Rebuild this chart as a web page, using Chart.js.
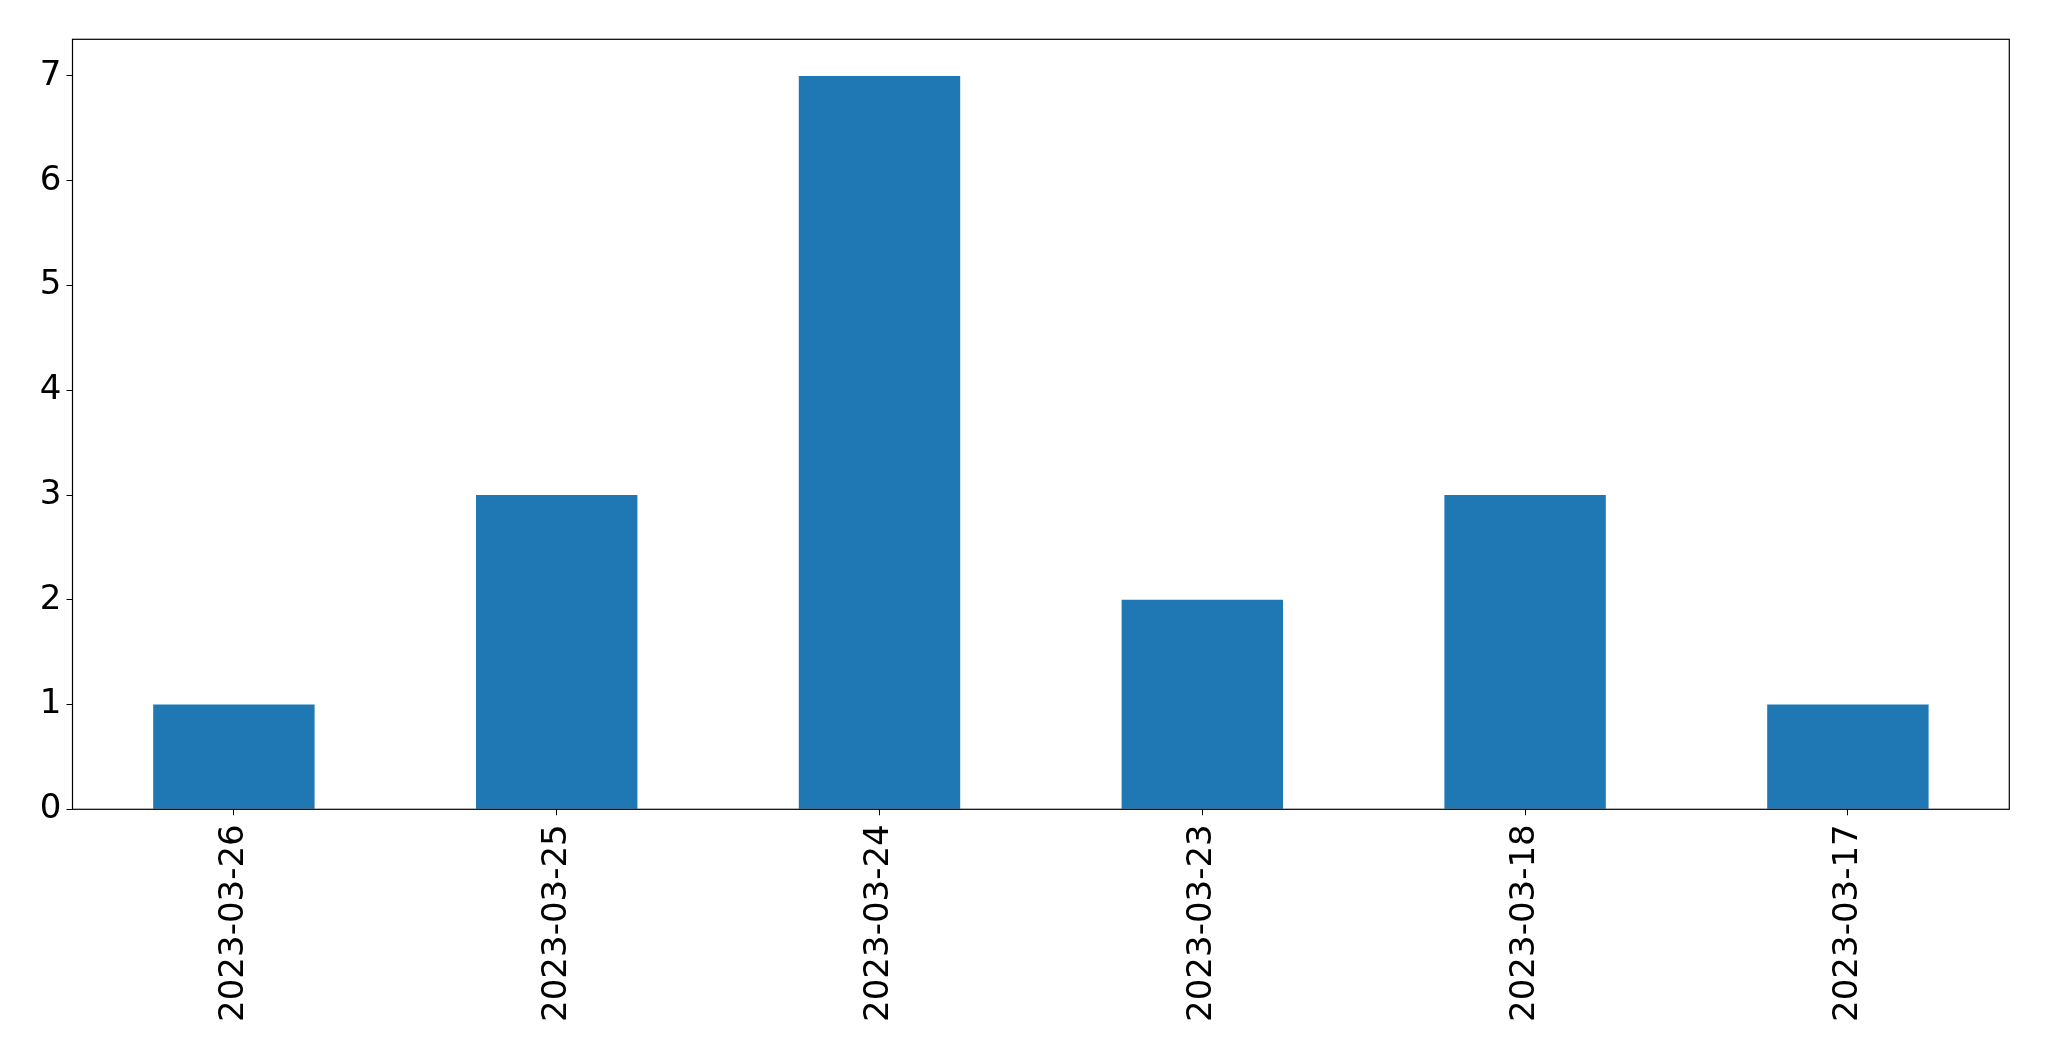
<!DOCTYPE html>
<html>
<head>
<meta charset="utf-8">
<script src="https://cdn.jsdelivr.net/npm/chart.js@4.4.0/dist/chart.umd.min.js"></script>
<style>
    html, body { margin: 0; padding: 0; background: #ffffff; }
    #wrap { width: 2049px; height: 1061px; }
</style>
</head>
<body>
<div id="wrap"><canvas id="barChart" width="2049" height="1061"></canvas></div>
<script>
const dates = ['2023-03-26', '2023-03-25', '2023-03-24', '2023-03-23', '2023-03-18', '2023-03-17'];
const counts = [1, 3, 7, 2, 3, 1];
const yTicks = [0, 1, 2, 3, 4, 5, 6, 7];

// matplotlib style frame around the plot area
const frame = {
    id: 'frame',
    afterDraw(chart) {
        const { ctx, chartArea: a } = chart;
        ctx.save();
        ctx.strokeStyle = '#000000';
        ctx.lineWidth = 1.2;
        ctx.strokeRect(a.left, a.top, a.right - a.left, a.bottom - a.top);
        ctx.restore();
    }
};

const ctx = document.getElementById('barChart').getContext('2d');
new Chart(ctx, {
    type: 'bar',
    data: {
        labels: dates,
        datasets: [{
            data: counts,
            backgroundColor: '#1f77b4',
            borderWidth: 0,
            categoryPercentage: 1.0,
            barPercentage: 0.5
        }]
    },
    options: {
        responsive: false,
        animation: false,
        devicePixelRatio: 1,
        layout: { padding: { left: 0, top: 39.3, right: 39.7, bottom: 0 } },
        plugins: {
            legend: { display: false },
            tooltip: { enabled: false }
        },
        scales: {
            x: {
                grid: { display: true, drawOnChartArea: false, offset: false, tickLength: 6, color: '#000000', lineWidth: 1 },
                border: { display: false },
                ticks: {
                    color: '#000000',
                    font: { family: 'DejaVu Sans', size: 34 },
                    minRotation: 90,
                    maxRotation: 90,
                    padding: 9,
                    autoSkip: false
                },
                afterFit(axis) { axis.height = 1061 - 809.3; }
            },
            y: {
                min: 0,
                max: 7.35,
                grid: { display: true, drawOnChartArea: false, tickLength: 6, color: '#000000', lineWidth: 1 },
                border: { display: false },
                ticks: {
                    color: '#000000',
                    font: { family: 'DejaVu Sans', size: 34 },
                    padding: 5
                },
                afterBuildTicks(axis) { axis.ticks = yTicks.map(v => ({ value: v })); },
                afterFit(axis) { axis.width = 72.5; }
            }
        }
    },
    plugins: [frame]
});
</script>
</body>
</html>
